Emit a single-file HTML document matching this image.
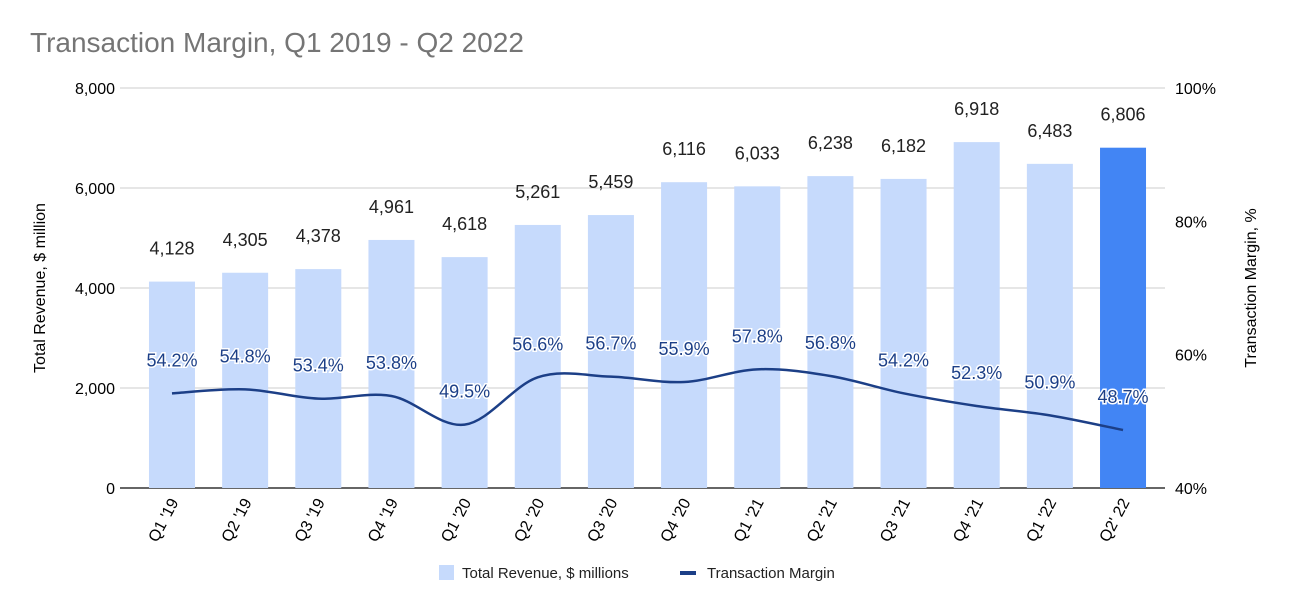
<!DOCTYPE html>
<html><head><meta charset="utf-8"><style>
body{margin:0;background:#fff;}
svg{display:block;font-family:"Liberation Sans",sans-serif;}
</style></head><body>
<svg id="chart" width="1292" height="612">
<text x="30" y="52" font-size="28" fill="#757575">Transaction Margin, Q1 2019 - Q2 2022</text>
<text transform="translate(45,288) rotate(-90)" text-anchor="middle" font-size="16" fill="#000">Total Revenue, $ million</text>
<text transform="translate(1256,288) rotate(-90)" text-anchor="middle" font-size="16" fill="#000">Transaction Margin, %</text>
<g id="grid"></g><g id="bars"></g><g id="line"></g><g id="labels"></g><g id="xlabels"></g>
<g>
<rect x="439" y="565" width="15" height="15" fill="#c6dafc"/>
<text x="462" y="578" font-size="15" fill="#222">Total Revenue, $ millions</text>
<rect x="680" y="571" width="16" height="4" fill="#1c3f87"/>
<text x="707" y="578" font-size="15" fill="#222">Transaction Margin</text>
</g>
</svg>
<script>
const categories=["Q1 '19","Q2 '19","Q3 '19","Q4 '19","Q1 '20","Q2 '20","Q3 '20","Q4 '20","Q1 '21","Q2 '21","Q3 '21","Q4 '21","Q1 '22","Q2' 22"];
const revenue=[4128,4305,4378,4961,4618,5261,5459,6116,6033,6238,6182,6918,6483,6806];
const margin=[54.2,54.8,53.4,53.8,49.5,56.6,56.7,55.9,57.8,56.8,54.2,52.3,50.9,48.7];
const leftTicks=[0,2000,4000,6000,8000];
const rightTicks=[40,60,80,100];
const NS="http://www.w3.org/2000/svg";
const gx0=120,gx1=1165,yTop=88,yBot=488;
const bx0=135.4,bx1=1159.6;
const step=(bx1-bx0)/categories.length;
const xC=i=>bx0+step*(i+0.5);
const yL=v=>yBot-v/8000*(yBot-yTop);
const yR=v=>yBot-(v-40)/60*(yBot-yTop);
function mk(tag,attrs,parent,txt){const e=document.createElementNS(NS,tag);for(const k in attrs)e.setAttribute(k,attrs[k]);if(txt!==undefined)e.textContent=txt;document.getElementById(parent).appendChild(e);return e;}
leftTicks.forEach(t=>{
 const l=mk('line',{x1:gx0,x2:gx1,y1:yL(t),y2:yL(t),stroke:t===0?'#333':'#ccc','stroke-width':t===0?1.5:1},'grid');
 
 
 const tx=mk('text',{x:gx0-5,y:yL(t)+6,'text-anchor':'end','font-size':16,fill:'#000'},'grid',t.toLocaleString('en-US'));
 
 
});
rightTicks.forEach(t=>{
 const tx=mk('text',{x:gx1+10,y:yR(t)+6,'font-size':16,fill:'#000'},'grid',t+'%');
 
 
});
const bw=46;
revenue.forEach((v,i)=>{
 const last=i===revenue.length-1;
 const r=mk('rect',{x:xC(i)-bw/2,y:yL(v),width:bw,height:yBot-yL(v),fill:last?'#4285f4':'#c6dafc'},'bars');
 
 
 const t=mk('text',{x:xC(i),y:yL(v)-27,'text-anchor':'middle','font-size':18,fill:'#222'},'labels',v.toLocaleString('en-US'));
 
 
 const xl=mk('text',{transform:`translate(${xC(i)+7},${yBot+14}) rotate(-62)`,'text-anchor':'end','font-size':16,fill:'#000'},'xlabels',categories[i]);
 
 
});
const pts=margin.map((v,i)=>[xC(i),yR(v)]);
let d='M'+pts[0][0]+','+pts[0][1];
for(let i=0;i<pts.length-1;i++){
 const p0=pts[Math.max(0,i-1)],p1=pts[i],p2=pts[i+1],p3=pts[Math.min(pts.length-1,i+2)];
 const c1=[p1[0]+(p2[0]-p0[0])/6,p1[1]+(p2[1]-p0[1])/6];
 const c2=[p2[0]-(p3[0]-p1[0])/6,p2[1]-(p3[1]-p1[1])/6];
 d+=` C${c1[0]},${c1[1]} ${c2[0]},${c2[1]} ${p2[0]},${p2[1]}`;
}
const path=mk('path',{d:d,fill:'none',stroke:'#1c3f87','stroke-width':2.5},'line');


margin.forEach((v,i)=>{
 const t=mk('text',{x:xC(i),y:yR(v)-27,'text-anchor':'middle','font-size':18,fill:'#1c3f87',stroke:'#fff','stroke-width':3,'paint-order':'stroke'},'labels',v.toFixed(1)+'%');
 
 
});
</script>
</body></html>
